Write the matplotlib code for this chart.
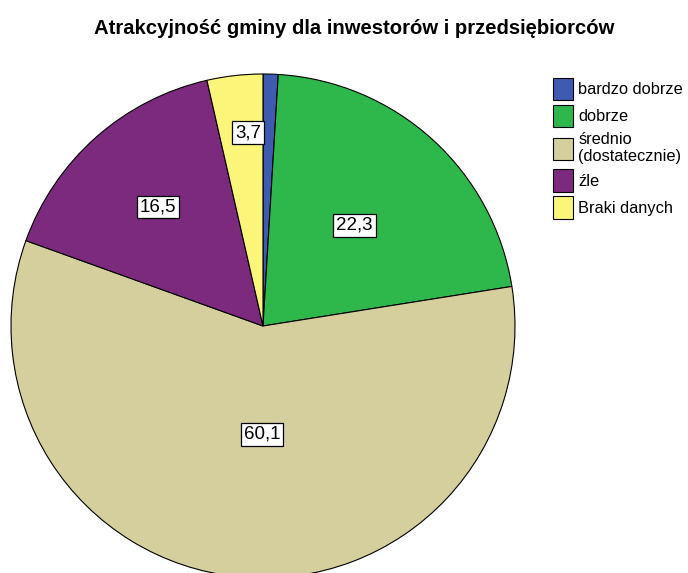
import matplotlib.pyplot as plt
import numpy as np

plt.rcParams['font.family'] = ['Liberation Sans', 'DejaVu Sans']

# Data
categories = ['bardzo dobrze', 'dobrze', 'średnio\n(dostatecznie)', 'źle', 'Braki danych']
values = [1.0, 22.3, 60.1, 16.5, 3.7]
value_labels = ['', '22,3', '60,1', '16,5', '3,7']
colors = ['#3d5bb0', '#2eb84b', '#d4cf9c', '#7b2a7e', '#fbf67a']

# placement of each value box: radius fraction and angle shift (deg) from wedge middle
label_r = [0.0, 0.54, 0.43, 0.63, 0.77]
label_shift = [0, 0, 4.9, 0, -2.0]

fig = plt.figure(figsize=(6.88, 5.73), dpi=100)
fig.patch.set_facecolor('white')

# square axes, 504 px, centre at (263, 326) px
ax = fig.add_axes([11 / 688, (573 - 578) / 573, 504 / 688, 504 / 573])
wedges, _ = ax.pie(values, colors=colors, startangle=90, counterclock=False,
                   radius=1.0, wedgeprops=dict(edgecolor='black', linewidth=0.8))
ax.set_xlim(-1, 1)
ax.set_ylim(-1, 1)
ax.set_aspect('auto')
for w in wedges:
    w.set_clip_on(False)

for w, lab, r, sh in zip(wedges, value_labels, label_r, label_shift):
    if not lab:
        continue
    mid = np.deg2rad((w.theta1 + w.theta2) / 2 + sh)
    ax.text(r * np.cos(mid), r * np.sin(mid), lab, ha='center', va='center',
            fontsize=13.5, color='black',
            bbox=dict(boxstyle='square,pad=0.15', facecolor='white',
                      edgecolor='black', linewidth=0.9))

fig.text(0.515, 0.951, 'Atrakcyjność gminy dla inwestorów i przedsiębiorców',
         ha='center', va='center', fontsize=14.6, fontweight='bold')

fig.legend(wedges, categories, loc='upper left', bbox_to_anchor=(553 / 688, 1 - 78 / 573),
           frameon=False, fontsize=11.8, handlelength=1.2, handleheight=1.7,
           handletextpad=0.35, labelspacing=0.3, borderpad=0, borderaxespad=0)

plt.savefig('out.png', dpi=100)
